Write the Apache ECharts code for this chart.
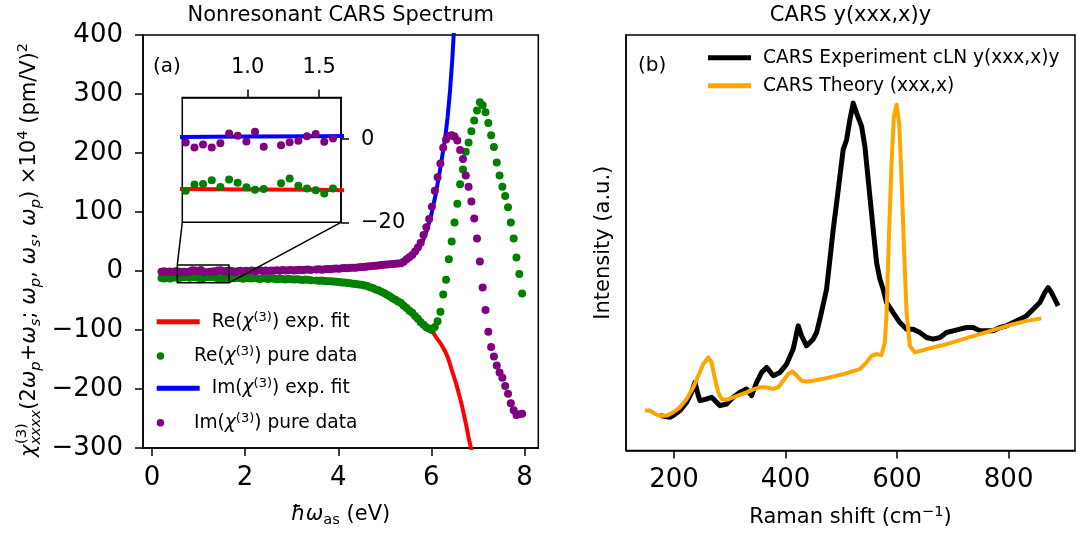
<!DOCTYPE html>
<html><head><meta charset="utf-8">
<script src="https://cdn.jsdelivr.net/npm/echarts@6/dist/echarts.min.js"></script>
<style>html,body{margin:0;padding:0;background:#fff}#c{width:1076px;height:533px}</style>
</head><body><div id="c"></div>
<script>
// ---------------- data (a): nonresonant chi(3) ----------------
const energy = [0.204,0.265,0.325,0.386,0.446,0.507,0.567,0.628,0.688,0.749,0.809,0.870,0.930,0.991,1.051,1.112,1.172,1.233,1.293,1.354,1.414,1.475,1.535,1.596,1.656,1.717,1.777,1.838,1.898,1.959,2.019,2.080,2.140,2.201,2.261,2.322,2.382,2.443,2.503,2.564,2.624,2.685,2.745,2.806,2.866,2.927,2.987,3.048,3.108,3.169,3.229,3.290,3.350,3.411,3.471,3.532,3.592,3.653,3.713,3.774,3.834,3.895,3.955,4.016,4.076,4.137,4.197,4.258,4.318,4.379,4.439,4.500,4.560,4.621,4.681,4.742,4.802,4.863,4.923,4.984,5.044,5.105,5.165,5.226,5.286,5.347,5.407,5.468,5.528,5.589,5.649,5.710,5.770,5.831,5.891,5.952,6.012,6.073,6.133,6.194,6.254,6.315,6.375,6.436,6.496,6.557,6.617,6.678,6.738,6.799,6.859,6.920,6.980,7.041,7.101,7.162,7.222,7.283,7.343,7.404,7.464,7.525,7.585,7.646,7.706,7.767,7.827,7.888,7.948];
const reData = [-11.8,-12.6,-11.2,-12.9,-11.5,-10.8,-12.4,-10.9,-10.8,-9.9,-11.5,-9.7,-10.5,-11.6,-12.2,-12.0,null,-10.6,-9.5,-11.2,-11.9,-12.3,-13.1,-11.9,-10.7,-11.8,-12.4,-11.0,-12.1,-13.0,-11.6,-12.3,-12.8,-11.9,-12.5,-13.4,-12.2,-12.9,-13.6,-12.4,-13.1,-13.8,-12.9,-13.5,-14.2,-13.3,-13.9,-14.6,-13.8,-14.5,-15.2,-14.4,-15.0,-15.8,null,-16.0,-16.6,-16.2,-17.0,-17.5,-17.2,-18.0,-18.4,-18.6,-19.3,-19.4,-20.3,-20.6,-21.6,-21.9,-22.9,-23.4,-24.6,-25.5,-27.5,-29.0,-31.2,-32.8,-35.2,-37.3,-40.2,-42.8,-46.2,-48.6,-51.7,-54.3,-58.8,-62.8,-67.3,-70.8,-76.2,-80.8,-86.7,-91.3,-95.2,-97.8,-100.2,-95.0,-85,-69,-40,-15,20,50,82,114,147,172,202,218,237,255,272,286,281,269,251,230,210,184,162,143,127,108,82,55,23,-5,-38];
const imData = [-1.2,-0.4,-1.8,-0.9,-1.5,-0.6,-0.8,-2.0,-1.3,-2.0,-1.0,1.35,0.8,-0.6,1.75,-1.85,null,-1.45,-0.73,-0.4,0.7,1.2,-0.65,0.15,0.87,0.2,-1.1,-0.5,0.6,-0.9,0.3,-0.2,0.9,-0.4,0.5,1.1,0.0,0.7,-0.2,1.0,0.4,1.3,0.6,1.5,0.8,1.2,1.9,1.0,1.6,2.2,1.4,2.0,2.6,1.8,null,2.4,2.9,2.3,3.1,3.5,3.0,3.7,4.1,3.8,4.5,4.9,4.6,5.3,5.7,5.5,6.2,6.6,6.9,7.5,8.0,8.4,9.0,9.5,10.0,10.6,11.0,11.5,12.0,12.4,12.8,13,15.5,20,23.5,27,33,40,48,61,74,88,109,136,159,182,209,223,229,230,228,221,205,190,162,143,118,89,55,16,-28,-66,-103,-129,-145,-160,-172,-181,-195,-208,-224,-236,-244,-243,-242];
const reFitX = [0.2,0.5,1.0,1.5,2.0,2.5,3.0,3.5,4.0,4.25,4.5,4.75,5.0,5.2,5.4,5.6,5.7,5.8,5.9,6.0,6.1,6.2,6.3,6.35,6.4,6.45,6.5,6.55,6.6,6.65,6.7,6.75,6.8,6.85,6.9,6.95];
const reFit  = [-12.0,-12.0,-12.1,-12.2,-12.5,-13.0,-14.0,-15.8,-18.5,-20.5,-23.5,-29,-37,-46,-58,-72,-80,-88,-95,-100,-112,-123,-137,-146,-158,-171,-183,-196,-211,-226,-244,-262,-283,-300,-322,-345];
const imFitX = [0.2,0.5,1.0,1.5,2.0,2.5,3.0,3.5,4.0,4.25,4.5,4.75,5.0,5.2,5.4,5.6,5.7,5.8,5.9,6.0,6.1,6.2,6.3,6.35,6.4,6.45,6.5,6.55];
const imFit  = [0.5,0.5,0.6,0.7,0.9,1.3,2.0,3.0,4.5,5.5,7.0,8.5,10.5,13,17,27,35,48,68,96,133,178,228,262,305,360,430,520];
const mainXTicks = [0,2,4,6,8];
const mainYRange = [-300,400];
const mainXRange = [-0.193,8.296];
const insetXRange = [0.543,1.652];
const insetYRange = [-20,10];
const insetXTicks = [1.0,1.5];
const insetYTicks = [0,-20];
// ---------------- data (b): CARS spectra ----------------
const expShift = [174.9,192.8,198.8,210.8,222.7,231.7,237.6,243.6,246.6,258.6,267.5,282.4,294.4,306.3,318.3,330.2,339.2,348.2,357.2,366.1,378.0,390.0,402.0,413.8,422.8,428.8,437.8,449.6,455.7,461.6,473.6,479.6,485.5,491.6,497.5,503.4,509.5,515.4,521.3,527.4,536.4,542.3,548.2,557.2,563.3,569.2,575.1,581.2,593.0,605.0,617.0,628.9,640.9,652.9,664.7,676.7,688.7,700.5,712.5,724.6,736.4,748.4,760.4,772.2,784.2,796.2,808.1,820.0,832.0,843.9,855.9,864.9,870.8,876.9,882.8,888.7];
const expIntensity = [8.4,8.0,8.4,9.6,11.6,14.0,16.4,13.2,12.0,12.4,12.8,10.8,11.2,12.8,14.0,14.8,13.2,16.4,18.8,20.0,18.0,18.8,20.8,24.4,30.0,27.6,25.2,26.8,28.4,31.6,38.8,46.0,53.2,59.6,66.0,72.4,74.8,79.6,83.6,81.2,78.0,73.2,65.2,53.2,45.2,41.2,38.8,35.6,33.2,30.8,29.2,29.2,28.4,27.2,26.8,27.2,28.4,28.8,29.2,29.6,29.6,28.8,28.8,28.8,29.6,30.0,30.8,31.6,32.4,34.0,35.6,38.0,39.2,38.0,36.4,34.8];
const thShift = [148,157,166,175,187,199,210.8,222.7,234.6,243.6,252.5,261.5,267.5,273.5,279.4,285.4,294.4,306.3,318.3,330.2,342.1,354.1,366.1,378,387,395.9,404.8,412.7,419.9,428.8,437.8,449.6,479.6,509.5,533.3,545.3,554.3,563.3,572.2,578.1,581.2,585.8,590.1,594.3,599.1,603.8,608.1,612.2,617,622.9,631.9,658.8,688.7,718.5,748.4,778.3,808.1,832,858.9];
const thIntensity = [9.6,9.6,8.8,8.3,8.4,9.2,10.4,12.4,15.2,18.0,20.8,22.4,21.2,17.2,14.0,12.4,12.2,12.8,13.4,14.0,14.7,15.2,15.2,14.8,15.2,16.8,18.4,19.0,18.0,16.8,16.6,16.8,17.6,18.6,19.6,21.2,22.8,23.2,23.0,26.0,33.2,53.2,69.2,80.4,83.2,78.8,65.2,49.2,33.2,25.2,23.6,24.6,25.6,26.8,28.0,29.2,30.4,31.2,31.8];
const ramanTicks = [200,400,600,800];
const ramanRange = [114,919];
const intensityRange = [0,100];

// ---------------- chart ----------------
const FONT = 'DejaVu Sans';
const BLACK = '#000';
const minus = v => String(v).replace('-', '\u2212');
const pairs = (xs, ys) => xs.map((x, i) => [x, ys[i]]).filter(p => p[1] !== null && p[1] !== undefined);

const chart = echarts.init(document.getElementById('c'), null, {renderer: 'canvas', width: 1076, height: 533});

const axLine = {show: true, onZero: false, lineStyle: {color: BLACK, width: 1.5}};
const tick = vals => ({show: true, length: 8, inside: false, lineStyle: {color: BLACK, width: 1.5}, customValues: vals});
const lab = (vals, size, margin, fmt) => ({show: true, customValues: vals, fontSize: size, fontFamily: FONT, color: BLACK, margin: margin, formatter: fmt});

const nameRich = {
  m: {fontSize: 21, fontFamily: FONT, color: BLACK, lineHeight: 26},
  mi: {fontSize: 21, fontFamily: FONT, fontStyle: 'italic', color: BLACK, lineHeight: 26},
  sub: {fontSize: 14.7, fontFamily: FONT, color: BLACK, lineHeight: 14, verticalAlign: 'bottom'},
  sup: {fontSize: 14.7, fontFamily: FONT, color: BLACK, lineHeight: 14, verticalAlign: 'top'}
};

const legRich = {
  n: {fontSize: 18.6, fontFamily: FONT, color: BLACK, lineHeight: 22},
  i: {fontSize: 18.6, fontFamily: FONT, fontStyle: 'italic', color: BLACK, lineHeight: 22},
  sup: {fontSize: 13, fontFamily: FONT, color: BLACK, lineHeight: 12, verticalAlign: 'top'}
};
const legendLabels = {
  'Re fit': '{n|Re(}{i|\u03c7}{sup|(3)}{n|) exp. fit}',
  'Re data': '{n|Re(}{i|\u03c7}{sup|(3)}{n|) pure data}',
  'Im fit': '{n|Im(}{i|\u03c7}{sup|(3)}{n|) exp. fit}',
  'Im data': '{n|Im(}{i|\u03c7}{sup|(3)}{n|) pure data}',
  'CARS Experiment cLN y(xxx,x)y': '{n|CARS Experiment cLN y(xxx,x)y}',
  'CARS Theory (xxx,x)': '{n|CARS Theory (xxx,x)}'
};
function mkLegend(name, left, top, icon, h) {
  return {
    data: [{name: name, icon: icon}], left: left, top: top, orient: 'vertical', itemWidth: 43, itemHeight: h,
    selectedMode: false, padding: 0, itemGap: 0,
    formatter: n => legendLabels[n] || n,
    textStyle: {fontSize: 18.6, fontFamily: FONT, color: BLACK, padding: [0, 0, 0, 7], rich: legRich}
  };
}

const lineS = (name, xi, data, color, width) => ({
  name: name, type: 'line', xAxisIndex: xi, yAxisIndex: xi, data: data, symbol: 'none', showSymbol: false,
  lineStyle: {color: color, width: width, join: 'round', cap: 'butt'}, itemStyle: {color: color},
  clip: true, animation: false, silent: true, z: 2
});
const scatS = (name, xi, data, color) => ({
  name: name, type: 'scatter', xAxisIndex: xi, yAxisIndex: xi, data: data, symbol: 'circle', symbolSize: 8,
  itemStyle: {color: color, opacity: 1}, clip: true, animation: false, silent: true, z: 2
});

const reFitData = pairs(reFitX, reFit);
const imFitData = pairs(imFitX, imFit);
const reDataP = pairs(energy, reData);
const imDataP = pairs(energy, imData);
const zoomBox = [[insetXRange[0], insetYRange[1]], [insetXRange[1], insetYRange[1]], [insetXRange[1], insetYRange[0]], [insetXRange[0], insetYRange[0]], [insetXRange[0], insetYRange[1]]];

const option = {
  animation: false,
  backgroundColor: '#fff',
  grid: [
    {left: 143, top: 35, width: 395.3, height: 416, show: true, borderColor: BLACK, borderWidth: 1.5, backgroundColor: 'transparent', containLabel: false},
    {left: 626, top: 35, width: 449, height: 416.7, show: true, borderColor: BLACK, borderWidth: 1.5, backgroundColor: 'transparent', containLabel: false},
    {left: 182.3, top: 97.5, width: 158.7, height: 124.8, show: true, borderColor: BLACK, borderWidth: 1.5, backgroundColor: '#fff', containLabel: false}
  ],
  xAxis: [
    {gridIndex: 0, type: 'value', min: mainXRange[0], max: mainXRange[1], axisLine: axLine, axisTick: tick(mainXTicks),
     axisLabel: lab(mainXTicks, 26, 17, v => minus(v)), splitLine: {show: false},
     name: '{mi|\u0127\u03c9}{sub|as}{m| (eV)}', nameLocation: 'middle', nameGap: 54,
     nameTextStyle: {fontSize: 21, fontFamily: FONT, color: BLACK, rich: nameRich}},
    {gridIndex: 1, type: 'value', min: ramanRange[0], max: ramanRange[1], axisLine: axLine, axisTick: tick(ramanTicks),
     axisLabel: lab(ramanTicks, 26, 17, v => String(v)), splitLine: {show: false},
     name: '{m|Raman shift (cm}{sup|\u22121}{m|)}', nameLocation: 'middle', nameGap: 54,
     nameTextStyle: {fontSize: 21, fontFamily: FONT, color: BLACK, rich: nameRich}},
    {gridIndex: 2, type: 'value', position: 'top', min: insetXRange[0], max: insetXRange[1], axisLine: axLine, axisTick: tick(insetXTicks),
     axisLabel: lab(insetXTicks, 21, 19, v => v.toFixed(1)), splitLine: {show: false}}
  ],
  yAxis: [
    {gridIndex: 0, type: 'value', min: mainYRange[0], max: mainYRange[1], interval: 100, axisLine: axLine,
     axisTick: {show: true, length: 8, lineStyle: {color: BLACK, width: 1.5}},
     axisLabel: {fontSize: 26, fontFamily: FONT, color: BLACK, margin: 20, formatter: v => minus(v)}, splitLine: {show: false}},
    {gridIndex: 1, type: 'value', min: intensityRange[0], max: intensityRange[1], axisLine: axLine,
     axisTick: {show: false}, axisLabel: {show: false}, splitLine: {show: false},
     name: 'Intensity (a.u.)', nameLocation: 'middle', nameGap: 12, nameRotate: 90,
     nameTextStyle: {fontSize: 21, fontFamily: FONT, color: BLACK}},
    {gridIndex: 2, type: 'value', position: 'right', min: insetYRange[0], max: insetYRange[1], axisLine: axLine, axisTick: tick(insetYTicks),
     axisLabel: lab(insetYTicks, 21, 20, v => minus(v)), splitLine: {show: false}}
  ],
  legend: [
    mkLegend('Re fit', 156.7, 310.7, 'rect', 5),
    mkLegend('Re data', 156.7, 345, 'circle', 7.5),
    mkLegend('Im fit', 156.7, 377.3, 'rect', 5),
    mkLegend('Im data', 156.7, 411.7, 'circle', 7.5),
    mkLegend('CARS Experiment cLN y(xxx,x)y', 708, 48.3, 'rect', 5),
    mkLegend('CARS Theory (xxx,x)', 708, 76.3, 'rect', 5)
  ],
  series: [
    lineS('Re fit', 0, reFitData, '#ff0000', 4),
    scatS('Re data', 0, reDataP, '#008000'),
    lineS('Im fit', 0, imFitData, '#0000ff', 4),
    scatS('Im data', 0, imDataP, '#800080'),
    Object.assign(lineS('zoom box', 0, zoomBox, BLACK, 1.5), {z: 4, clip: false}),
    lineS('inset Re fit', 2, reFitData, '#ff0000', 4),
    scatS('inset Re data', 2, reDataP, '#008000'),
    lineS('inset Im fit', 2, imFitData, '#0000ff', 4),
    scatS('inset Im data', 2, imDataP, '#800080'),
    lineS('CARS Experiment cLN y(xxx,x)y', 1, pairs(expShift, expIntensity), BLACK, 5),
    lineS('CARS Theory (xxx,x)', 1, pairs(thShift, thIntensity), '#ffa500', 4)
  ]
};
chart.setOption(option);

// connector lines between zoom box and inset (positions from the axes' scales)
const rTL = chart.convertToPixel({gridIndex: 0}, [insetXRange[0], insetYRange[1]]);
const rBR = chart.convertToPixel({gridIndex: 0}, [insetXRange[1], insetYRange[0]]);
const iBL = chart.convertToPixel({gridIndex: 2}, [insetXRange[0], insetYRange[0]]);
const iBR = chart.convertToPixel({gridIndex: 2}, [insetXRange[1], insetYRange[0]]);

// rotated y label for panel (a)
const ctx = document.createElement('canvas').getContext('2d');
ctx.font = 'italic 21px "DejaVu Sans"';
const chiW = ctx.measureText('\u03c7').width;
const yRich = {
  m: {fontSize: 21, fontFamily: FONT, fill: BLACK, lineHeight: 28},
  mi: {fontSize: 21, fontFamily: FONT, fontStyle: 'italic', fill: BLACK, lineHeight: 28},
  subi: {fontSize: 14.7, fontFamily: FONT, fontStyle: 'italic', fill: BLACK, lineHeight: 14, verticalAlign: 'bottom'},
  sup: {fontSize: 14.7, fontFamily: FONT, fill: BLACK, lineHeight: 14, verticalAlign: 'top'}
};
const yLabel = '{mi|\u03c7}{subi|xxxx}{m|(2}{mi|\u03c9}{subi|p}{m|+}{mi|\u03c9}{subi|s}{m|; }{mi|\u03c9}{subi|p}{m|, }{mi|\u03c9}{subi|s}{m|, }{mi|\u03c9}{subi|p}{m|) \u00d710}{sup|4}{m| (pm/V)}{sup|2}';

const txt = (x, y, text, size, align) => ({type: 'text', x: x, y: y, silent: true, z: 10,
  style: {text: text, fontSize: size, fontFamily: FONT, fill: BLACK, align: align || 'left', verticalAlign: 'middle'}});

chart.setOption({
  graphic: [
    {type: 'line', silent: true, z: 10, shape: {x1: iBL[0], y1: iBL[1], x2: rTL[0], y2: rTL[1]}, style: {stroke: BLACK, lineWidth: 1.5}},
    {type: 'line', silent: true, z: 10, shape: {x1: iBR[0], y1: iBR[1], x2: rBR[0], y2: rBR[1]}, style: {stroke: BLACK, lineWidth: 1.5}},
    txt(340.7, 16, 'Nonresonant CARS Spectrum', 21, 'center'),
    txt(850.5, 16, 'CARS y(xxx,x)y', 21, 'center'),
    txt(153, 66.7, '(a)', 20),
    txt(638, 65.8, '(b)', 20),
    {type: 'group', x: 30, y: 457, rotation: Math.PI / 2, silent: true, z: 10, children: [
      {type: 'text', x: 0, y: 0, style: {text: yLabel, rich: yRich, fontSize: 21, fontFamily: FONT, fill: BLACK, align: 'left', verticalAlign: 'middle'}},
      {type: 'text', x: chiW + 0.5, y: -8, style: {text: '(3)', fontSize: 14.7, fontFamily: FONT, fill: BLACK, align: 'left', verticalAlign: 'middle'}}
    ]}
  ]
});
</script>
</body></html>
